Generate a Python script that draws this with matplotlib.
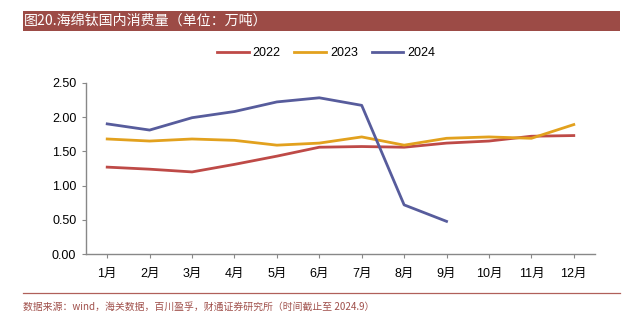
import matplotlib
matplotlib.use("Agg")
import matplotlib.pyplot as plt
from matplotlib.patches import Rectangle
from matplotlib.lines import Line2D

months = ["1月", "2月", "3月", "4月", "5月", "6月", "7月", "8月", "9月", "10月", "11月", "12月"]
v2022 = [1.27, 1.24, 1.20, 1.31, 1.43, 1.56, 1.57, 1.56, 1.62, 1.65, 1.72, 1.73]
v2023 = [1.68, 1.65, 1.68, 1.66, 1.59, 1.62, 1.71, 1.59, 1.69, 1.71, 1.69, 1.89]
v2024 = [1.90, 1.81, 1.99, 2.08, 2.22, 2.28, 2.17, 0.72, 0.48]
yticks = [0.0, 0.5, 1.0, 1.5, 2.0, 2.5]

W, H = 627, 321
fig = plt.figure(figsize=(W / 100, H / 100), dpi=100)
fam = ["Liberation Sans", "Noto Sans CJK SC", "DejaVu Sans"]
cjk = ["Noto Sans CJK SC", "DejaVu Sans"]

# Title bar
fig.patches.append(Rectangle((23 / W, 1 - 31 / H), (620 - 23) / W, 20.5 / H,
                             transform=fig.transFigure, facecolor="#9C4B46",
                             edgecolor="none", zorder=0))
fig.text(24 / W, 1 - 21 / H, "图20.海绵钛国内消费量（单位：万吨）", family=cjk,
         fontsize=10.1, color="white", va="center", ha="left")

# Footer line and text
fig.add_artist(Line2D([23 / W, 620 / W], [1 - 292.5 / H, 1 - 292.5 / H],
                      transform=fig.transFigure, color="#B0605A", lw=0.9))
fig.text(23 / W, 1 - 307 / H, "数据来源：wind，海关数据，百川盈孚，财通证券研究所（时间截止至 2024.9）",
         family=cjk, fontsize=7.1, color="#A0504B", va="center", ha="left")

ax = fig.add_axes([86 / W, 1 - 254.3 / H, (595 - 86) / W, (254.3 - 82.7) / H])
x = list(range(1, 13))
ax.plot(x, v2022, color="#BE4A47", lw=2, label="2022")
ax.plot(x, v2023, color="#E2A11E", lw=2, label="2023")
ax.plot(x[:len(v2024)], v2024, color="#575C9C", lw=2, label="2024")

ax.set_xlim(0.5, 12.5)
ax.set_ylim(0, 2.5)
ax.set_yticks(yticks)
ax.set_yticklabels([f"{v:.2f}" for v in yticks], family=fam, fontsize=9)
ax.set_xticks(x)
ax.set_xticklabels(months, family=fam, fontsize=9)
ax.tick_params(axis="x", length=3, pad=7, color="#888888")
ax.tick_params(axis="y", length=3, pad=4, color="#888888")
for s in ["top", "right"]:
    ax.spines[s].set_visible(False)
for s in ["left", "bottom"]:
    ax.spines[s].set_color("#888888")
    ax.spines[s].set_linewidth(1)

fig.legend(loc="center", bbox_to_anchor=(326 / W, 1 - 53 / H), ncol=3, frameon=False,
           prop={"family": fam, "size": 9}, handlelength=2.55, columnspacing=1.1,
           handletextpad=0.3)

fig.savefig("out.png", dpi=100)
